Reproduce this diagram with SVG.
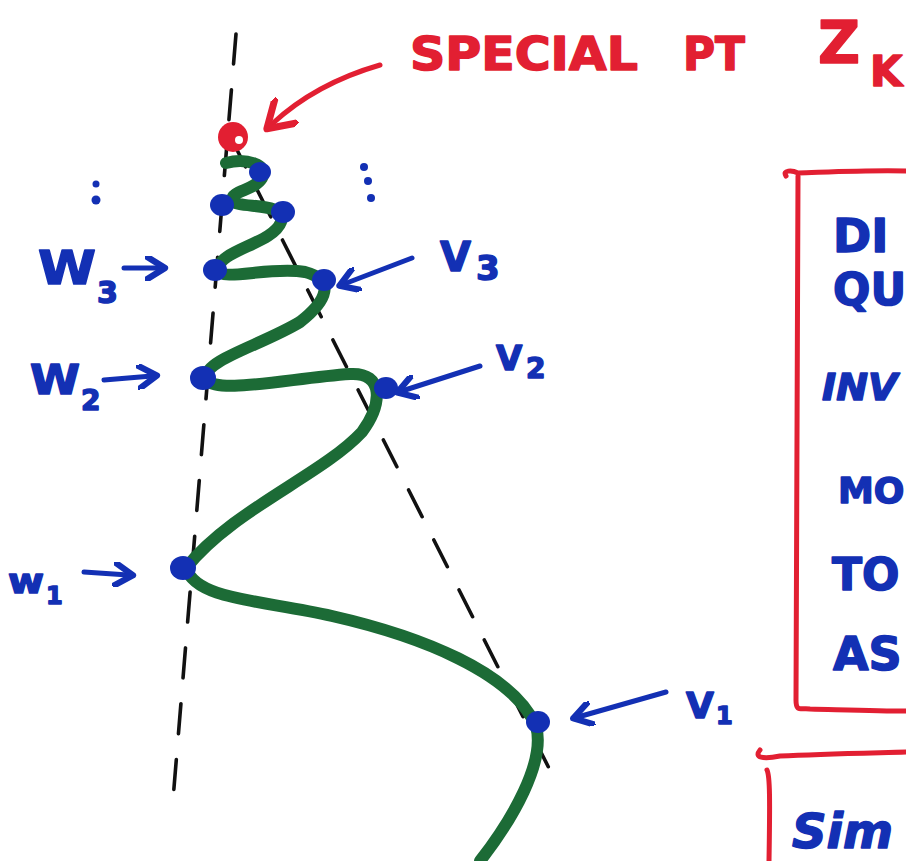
<svg xmlns="http://www.w3.org/2000/svg" width="906" height="861" viewBox="0 0 906 861">
<defs>
<style>
.dash{fill:none;stroke:#111;stroke-width:3.6;stroke-dasharray:30 26;stroke-linecap:round}
.green{fill:none;stroke:#1c6b36;stroke-width:12;stroke-linecap:round;stroke-linejoin:round}
.blue{fill:#1330b4}
.bl{fill:none;stroke:#1330b4;stroke-width:5;stroke-linecap:round;stroke-linejoin:round}
.rl{fill:none;stroke:#e21f32;stroke-width:5;stroke-linecap:round;stroke-linejoin:round}
.bt{font-family:"DejaVu Sans","Liberation Sans",sans-serif;font-weight:bold;fill:#1330b4;stroke:#1330b4;stroke-width:1.5;stroke-linejoin:round}
.rt{font-family:"DejaVu Sans","Liberation Sans",sans-serif;font-weight:bold;fill:#e21f32;stroke:#e21f32;stroke-width:1.5;stroke-linejoin:round}
</style>
<marker id="ab" viewBox="0 0 10 10" refX="6" refY="5" markerWidth="5" markerHeight="5" orient="auto" markerUnits="strokeWidth">
<path d="M0,0 L8,5 L0,10" fill="none" stroke="#1330b4" stroke-width="2.5" stroke-linecap="round" stroke-linejoin="round"/>
</marker>
<marker id="ar" viewBox="0 0 10 10" refX="6" refY="5" markerWidth="7" markerHeight="7" orient="auto" markerUnits="strokeWidth">
<path d="M0,0 L8,5 L0,10" fill="none" stroke="#e21f32" stroke-width="2" stroke-linecap="round" stroke-linejoin="round"/>
</marker>
</defs>
<rect width="906" height="861" fill="#ffffff"/>

<!-- dashed construction lines -->
<line class="dash" x1="236" y1="34" x2="172" y2="812"/>
<line class="dash" x1="232" y1="140" x2="558" y2="786"/>

<!-- green curve -->
<path class="green" d="M226,163 C245,158 270,164 262,178 C254,191 232,190 232,200 C236,210 287,200 281,222 C273,244 218,250 218,270 C222,282 270,266 305,272 C335,280 328,300 300,322 C262,345 204,360 206,378 C212,396 290,378 350,374 C385,372 382,405 362,432 C322,475 232,510 186,568 C196,600 262,600 332,616 C420,636 512,672 536,726 C546,762 512,820 480,861"/>

<!-- red special point and arrow -->
<circle cx="233" cy="137" r="15" fill="#e21f32"/>
<circle cx="239" cy="140" r="4" fill="#ffffff"/>
<path class="rl" d="M380,65 C335,78 300,98 272,124" marker-end="url(#ar)"/>
<text class="rt" x="410" y="70" font-size="46" textLength="228" lengthAdjust="spacingAndGlyphs">SPECIAL</text>
<text class="rt" x="683" y="70" font-size="46" textLength="62" lengthAdjust="spacingAndGlyphs">PT</text>
<text class="rt" x="818" y="63" font-size="58">Z</text>
<text class="rt" x="870" y="86" font-size="42">K</text>

<!-- blue points -->
<g class="blue">
<ellipse cx="260" cy="172" rx="11" ry="10"/>
<ellipse cx="222" cy="205" rx="12" ry="11"/>
<ellipse cx="283" cy="212" rx="12" ry="11"/>
<ellipse cx="215" cy="270" rx="12" ry="11"/>
<ellipse cx="324" cy="280" rx="12" ry="11"/>
<ellipse cx="203" cy="378" rx="13" ry="12"/>
<ellipse cx="386" cy="388" rx="12" ry="11"/>
<ellipse cx="183" cy="568" rx="13" ry="12"/>
<ellipse cx="538" cy="722" rx="12" ry="11"/>
<circle cx="96" cy="184" r="3.5"/>
<circle cx="96" cy="200" r="4.5"/>
<circle cx="364" cy="167" r="4"/>
<circle cx="368" cy="181" r="4"/>
<circle cx="371" cy="198" r="4"/>
</g>

<!-- left labels -->
<text class="bt" x="38" y="284" font-size="46" textLength="58" lengthAdjust="spacingAndGlyphs">W</text>
<text class="bt" x="97" y="303" font-size="30">3</text>
<path class="bl" d="M124,268 L160,268" marker-end="url(#ab)"/>

<text class="bt" x="30" y="394" font-size="40" textLength="50" lengthAdjust="spacingAndGlyphs">W</text>
<text class="bt" x="81" y="410" font-size="28">2</text>
<path class="bl" d="M104,380 L152,376" marker-end="url(#ab)"/>

<text class="bt" x="8" y="593" font-size="34" textLength="36" lengthAdjust="spacingAndGlyphs">w</text>
<text class="bt" x="46" y="604" font-size="24">1</text>
<path class="bl" d="M84,572 L128,575" marker-end="url(#ab)"/>

<!-- right labels -->
<path class="bl" d="M412,258 L344,284" marker-end="url(#ab)"/>
<text class="bt" x="440" y="271" font-size="40">V</text>
<text class="bt" x="476" y="280" font-size="34">3</text>

<path class="bl" d="M480,366 L402,391" marker-end="url(#ab)"/>
<text class="bt" x="496" y="370" font-size="34">V</text>
<text class="bt" x="526" y="378" font-size="28">2</text>

<path class="bl" d="M666,692 L578,717" marker-end="url(#ab)"/>
<text class="bt" x="686" y="718" font-size="36">V</text>
<text class="bt" x="716" y="724" font-size="24">1</text>

<!-- right red box -->
<path class="rl" d="M786,176 C782,170 792,170 798,173 C830,172 870,170 906,171"/>
<path class="rl" d="M798,176 C799,340 796,520 796,700 C796,712 800,708 810,709 C850,710 880,711 906,711"/>
<text class="bt" x="833" y="252" font-size="46">DI</text>
<text class="bt" x="833" y="305" font-size="44">QU</text>
<text class="bt" x="822" y="400" font-size="38" font-style="italic">INV</text>
<text class="bt" x="838" y="503" font-size="36">MO</text>
<text class="bt" x="832" y="590" font-size="44">TO</text>
<text class="bt" x="833" y="670" font-size="46">AS</text>

<!-- bottom red box -->
<path class="rl" d="M760,750 C752,760 770,758 780,756 C820,754 870,753 906,752"/>
<path class="rl" d="M767,770 C770,776 770,800 769,861"/>
<text class="bt" x="792" y="848" font-size="48" font-style="italic">Sim</text>
</svg>
